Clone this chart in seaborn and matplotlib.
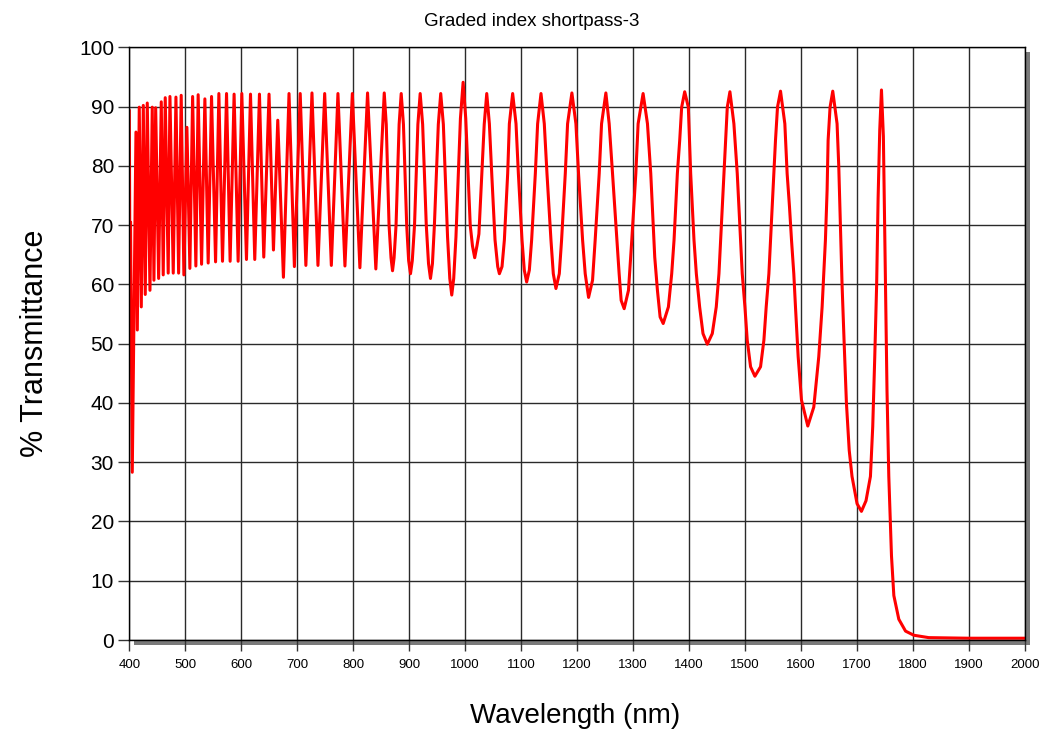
import matplotlib
matplotlib.use("Agg")
import numpy as np
import pandas as pd
import seaborn as sns
import matplotlib.pyplot as plt
from matplotlib.patches import Rectangle

# ---- data (wavelength in nm, transmittance in %) ----
# short-wave region: start + alternating peaks / troughs
wl_short = [400, 401.0, 402.2, 405.3, 411.9, 414.3, 417.8, 421.4, 425.0, 428.5, 432.1, 436.9,
            441.0, 444.0, 447.1, 452.4, 457.1, 460.6, 464.2, 469.5, 472.6, 478.5, 483.3, 488.1,
            492.7, 497.5, 502.9, 508.2, 513.1, 518.9, 523.0, 529.1, 535.0, 540.9, 546.9, 554.1,
            560.0, 566.5, 573.7, 580.1, 587.2, 594.4, 601.0, 609.3, 616.5, 624.1, 632.5, 640.2,
            649.6, 657.5, 665.2, 675.3, 685.3, 694.9, 705.3, 715.4, 726.3, 737.0, 749.0, 760.9,
            772.7, 785.2, 798.4, 811.9, 825.6, 840.4]
t_short = [89.4, 64.5, 70.5, 28.3, 85.7, 52.3, 89.9, 56.2, 90.2, 58.3, 90.6, 59.0,
           89.9, 60.7, 89.8, 61.0, 90.8, 61.6, 91.5, 61.9, 91.7, 61.9, 91.6, 61.9,
           91.9, 61.6, 86.5, 62.7, 91.7, 63.1, 92.0, 63.4, 91.3, 63.6, 91.7, 63.8,
           92.2, 63.9, 92.2, 63.9, 92.1, 63.9, 92.2, 64.2, 92.1, 64.2, 92.1, 64.6,
           92.1, 65.8, 87.7, 61.2, 92.2, 63.0, 92.2, 63.2, 92.3, 63.2, 92.2, 63.2,
           92.2, 63.1, 92.2, 62.8, 92.3, 62.6]

# 855 - 1034 nm, with flank points
wl_mid1 = [855.4, 859.0, 864.0, 867.5, 870.2, 873.0, 876.5, 882.0,
           885.7, 889.7, 895.5, 899.0, 902.3, 905.5, 909.5, 915.5,
           919.6, 924.0, 930.5, 934.5, 938.0, 941.5, 945.0, 952.0,
           956.3, 961.0, 968.5, 972.5, 976.0, 979.5, 983.5, 991.5,
           996.3, 1001.0, 1009.0, 1013.0, 1017.0, 1021.0, 1024.5, 1034.0]
t_mid1 = [92.3, 87.0, 70.0, 64.5, 62.3, 64.5, 70.0, 87.0,
          92.2, 87.0, 70.0, 64.0, 61.8, 64.0, 70.0, 87.0,
          92.2, 87.0, 70.0, 63.5, 61.0, 63.5, 70.0, 87.0,
          92.2, 87.0, 68.0, 61.0, 58.2, 61.0, 68.0, 88.0,
          94.1, 88.0, 70.0, 66.5, 64.5, 66.5, 68.5, 87.0]

# mid region (1038 - 1354 nm)
wl_mid = [1038.5, 1043.2, 1047.4, 1053.3, 1058.1, 1061.1, 1065.8, 1070.0, 1075.9, 1078.9,
          1084.8, 1090.8, 1095.0, 1101.5, 1105.6, 1109.8, 1114.6, 1118.7, 1125.3, 1129.4,
          1135.4, 1141.3, 1146.1, 1153.2, 1157.4, 1162.1, 1168.1, 1172.2, 1178.8, 1182.9,
          1190.6, 1197.8, 1202.5, 1209.7, 1214.4, 1220.4, 1227.5, 1232.2, 1239.4, 1243.6,
          1251.3, 1257.2, 1263.2, 1270.9, 1275.0, 1278.6, 1284.0, 1291.7, 1297.6, 1304.8, 1308.9,
          1317.8, 1325.6, 1331.5, 1338.6, 1343.4, 1348.2, 1353.7]
t_mid = [92.2, 87.1, 78.7, 67.5, 63.0, 61.8, 63.0, 67.5, 78.7, 87.1,
         92.2, 87.1, 78.7, 67.5, 62.4, 60.4, 62.4, 67.5, 78.7, 87.1,
         92.2, 87.1, 78.7, 67.5, 61.8, 59.3, 61.8, 67.5, 78.7, 87.1,
         92.3, 87.1, 78.7, 67.5, 61.8, 57.8, 60.7, 67.5, 78.7, 87.1,
         92.3, 87.1, 78.7, 67.5, 61.8, 57.3, 55.9, 59.0, 67.5, 78.7, 87.1,
         92.2, 87.1, 78.7, 64.6, 59.0, 54.5, 53.4]

# long-wave region (1363 - 1657 nm)
wl_long = [1363.0, 1368.9, 1373.1, 1376.0, 1379.0, 1383.2, 1386.7, 1392.1, 1398.6, 1402.8, 1405.7,
           1408.7, 1412.9, 1418.8, 1424.8, 1432.5, 1441.4, 1448.5, 1453.3, 1456.3, 1459.2, 1462.2,
           1465.2, 1468.2, 1472.9, 1480.0, 1486.0, 1489.0, 1491.9, 1494.9, 1499.7, 1503.8, 1509.8,
           1517.5, 1527.6, 1533.6, 1537.7, 1542.5, 1545.4, 1548.4, 1551.4, 1554.3, 1557.9, 1563.3,
           1571.0, 1575.1, 1579.3, 1582.9, 1587.0, 1590.0, 1594.8, 1600.7, 1612.0, 1622.7, 1631.6,
           1637.6, 1640.5, 1643.5, 1646.5, 1648.3, 1651.8, 1656.6]
t_long = [56.2, 61.8, 67.5, 73.1, 78.7, 84.3, 89.9, 92.5, 89.9, 78.7, 73.1,
          67.5, 61.8, 56.2, 51.7, 49.9, 51.7, 56.2, 61.8, 67.5, 73.1, 78.7,
          84.3, 89.9, 92.5, 87.1, 78.7, 73.1, 67.5, 61.8, 56.2, 50.6, 46.1,
          44.5, 46.1, 50.6, 56.2, 61.8, 67.5, 73.1, 78.7, 84.3, 89.9, 92.6,
          87.1, 78.7, 73.1, 67.5, 61.8, 56.2, 47.8, 40.5, 36.1, 39.3, 47.8,
          56.2, 61.8, 67.5, 75.9, 84.3, 89.9, 92.6]

# band edge (1664 - 2000 nm)
wl_edge = [1664.3, 1667.3, 1670.2, 1673.2, 1677.0, 1681.0, 1686.0, 1691.0, 1700.0, 1707.8, 1716.0,
           1723.9, 1728.0, 1731.6, 1735.0, 1737.6, 1740.5, 1743.6, 1747.0, 1750.7, 1753.5, 1756.7,
           1761.5, 1765.7, 1774.6, 1786.6, 1801.5, 1828.0, 1900.0, 2000.0]
t_edge = [87.1, 80.0, 70.0, 60.0, 50.0, 40.0, 32.0, 27.6, 23.0, 21.7, 23.5,
          27.6, 36.0, 47.7, 60.0, 74.5, 86.0, 92.8, 85.0, 61.0, 42.0, 27.6,
          14.2, 7.5, 3.5, 1.5, 0.8, 0.4, 0.3, 0.3]

x_ticks = list(range(400, 2001, 100))
y_ticks = list(range(0, 101, 10))
title = "Graded index shortpass-3"
x_label = "Wavelength (nm)"
y_label = "% Transmittance"

df = pd.DataFrame({
    "wl": wl_short + wl_mid1 + wl_mid + wl_long + wl_edge,
    "T": t_short + t_mid1 + t_mid + t_long + t_edge,
})

sns.set_theme(style="white")
plt.rcParams["font.family"] = ["Liberation Sans", "DejaVu Sans"]
plt.rcParams["text.color"] = "black"
plt.rcParams["xtick.color"] = "black"
plt.rcParams["ytick.color"] = "black"

FW, FH = 1044, 733
fig = plt.figure(figsize=(FW / 100, FH / 100), dpi=100)
x0, x1, y0, y1 = 129.3, 1025.0, 47.3, 640.0
L, B, W, H = x0 / FW, 1 - y1 / FH, (x1 - x0) / FW, (y1 - y0) / FH

# drop shadow behind the plot frame
fig.patches.append(Rectangle((L + 5 / FW, B - 5 / FH), W, H, transform=fig.transFigure,
                             facecolor="#7a7a7a", edgecolor="none", zorder=0))
ax = fig.add_axes([L, B, W, H], zorder=1)
ax.set_facecolor("white")

sns.lineplot(data=df, x="wl", y="T", color="#ff0000", linewidth=2.2, ax=ax,
             estimator=None, sort=False)

ax.set_xlim(400, 2000)
ax.set_ylim(0, 100)
ax.set_xticks(x_ticks)
ax.set_yticks(y_ticks)
ax.set_xticklabels([str(v) for v in x_ticks], fontsize=9.5, color="black")
ax.set_yticklabels([str(v) for v in y_ticks], fontsize=15, color="black")
ax.grid(True, color="#2a2a2a", linewidth=1.0)
ax.set_axisbelow(True)
for s in ax.spines.values():
    s.set_color("black")
    s.set_linewidth(1.0)
ax.tick_params(axis="x", direction="out", length=8, width=1, color="#333333", pad=6, bottom=True)
ax.tick_params(axis="y", direction="out", length=8, width=1, color="#333333", pad=3, left=True)
ax.set_xlabel("")
ax.set_ylabel("")

fig.text(575 / FW, 1 - 716 / FH, x_label, ha="center", va="center", fontsize=20, color="black")
fig.text(35 / FW, 1 - 343 / FH, y_label, ha="center", va="center", fontsize=22, rotation=90,
         color="black")
fig.text(532 / FW, 1 - 22 / FH, title, ha="center", va="center", fontsize=13.5, color="black",
         family=["Liberation Sans Narrow", "Liberation Sans", "DejaVu Sans"])

fig.savefig("out.png", dpi=100)
